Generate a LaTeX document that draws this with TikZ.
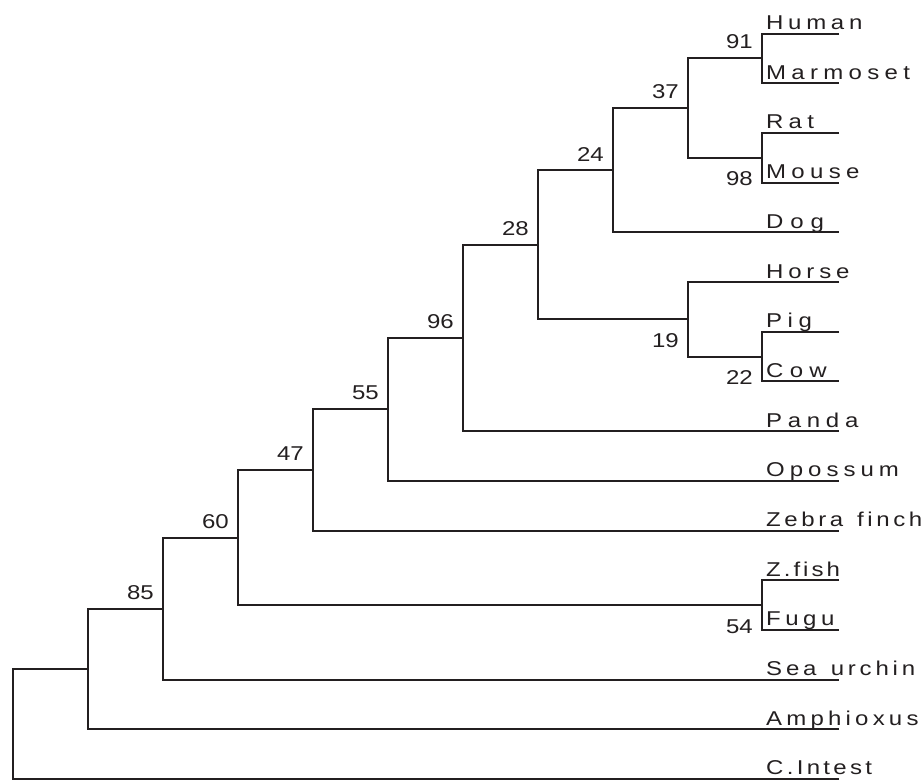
\documentclass[tikz,border=0pt]{standalone}
\usepackage{fontspec}
\setmainfont{Liberation Sans}[FakeStretch=1.2]
\usetikzlibrary{calc}
\definecolor{treeink}{HTML}{231F20}
\makeatletter
\def\spaced#1#2{\def\sp@k{#1}\sp@cedi#2\relax}
\def\sp@cedi#1{\ifx#1\relax\else#1\kern\sp@k\expandafter\sp@cedi\fi}
\makeatother
\newcommand\lblfont{\fontsize{20}{24}\selectfont}
\tikzset{
  branch/.style={draw=treeink, line width=2pt, line join=miter},
  leaf/.style={anchor=base west, inner sep=0pt, font=\lblfont, text=treeink},
  bsup/.style={anchor=south east, inner sep=0pt, font=\lblfont, text=treeink},
  bsdown/.style={anchor=north east, inner sep=0pt, font=\lblfont, text=treeink},
}
\begin{document}
\begin{tikzpicture}[x=1pt,y=-1pt]
\useasboundingbox (0,0) rectangle (922,780);
% leaf line ends
\coordinate (Human)    at (839,33.5);
\coordinate (Marmoset) at (839,83.2);
\coordinate (Rat)      at (839,132.9);
\coordinate (Mouse)    at (839,182.6);
\coordinate (Dog)      at (839,232.3);
\coordinate (Horse)    at (839,282.0);
\coordinate (Pig)      at (839,331.7);
\coordinate (Cow)      at (839,381.4);
\coordinate (Panda)    at (839,431.1);
\coordinate (Opossum)  at (839,480.8);
\coordinate (Zebra)    at (839,530.5);
\coordinate (Zfish)    at (839,580.2);
\coordinate (Fugu)     at (839,629.9);
\coordinate (Urchin)   at (839,679.6);
\coordinate (Amphi)    at (839,729.3);
\coordinate (Cint)     at (839,778.8);
% internal nodes
\coordinate (n91) at (762,58.35);
\coordinate (n98) at (762,157.75);
\coordinate (n37) at (688,108.05);
\coordinate (n24) at (613,170.2);
\coordinate (n22) at (762,356.55);
\coordinate (n19) at (688,319.3);
\coordinate (n28) at (538,244.75);
\coordinate (n96) at (463,337.9);
\coordinate (n55) at (388,409.35);
\coordinate (n47) at (313,469.9);
\coordinate (n54) at (762,605.05);
\coordinate (n60) at (238,537.5);
\coordinate (n85) at (163,608.55);
\coordinate (n1)  at (88,668.9);
\coordinate (n0)  at (13,723.95);
% branches
\draw[branch] (Human) -| (n91) |- (Marmoset);
\draw[branch] (Rat) -| (n98) |- (Mouse);
\draw[branch] (n91) -| (n37) |- (n98);
\draw[branch] (n37) -| (n24) |- (Dog);
\draw[branch] (Pig) -| (n22) |- (Cow);
\draw[branch] (Horse) -| (n19) |- (n22);
\draw[branch] (n24) -| (n28) |- (n19);
\draw[branch] (n28) -| (n96) |- (Panda);
\draw[branch] (n96) -| (n55) |- (Opossum);
\draw[branch] (n55) -| (n47) |- (Zebra);
\draw[branch] (Zfish) -| (n54) |- (Fugu);
\draw[branch] (n47) -| (n60) |- (n54);
\draw[branch] (n60) -| (n85) |- (Urchin);
\draw[branch] (n85) -| (n1) |- (Amphi);
\draw[branch] (n1) -| (n0) |- (Cint);
% leaf labels
\node[leaf] (tHuman)  at ($(Human)+(-73,-4)$)    {\spaced{4.7pt}{Human}};
\node[leaf] (tMarm)   at ($(Marmoset)+(-73,-4)$) {\spaced{5.3pt}{Marmoset}};
\node[leaf] (tRat)    at ($(Rat)+(-73,-4)$)      {\spaced{5.2pt}{Rat}};
\node[leaf] (tMouse)  at ($(Mouse)+(-73,-4)$)    {\spaced{5.3pt}{Mouse}};
\node[leaf] (tDog)    at ($(Dog)+(-73,-4)$)      {\spaced{6.9pt}{Dog}};
\node[leaf] (tHorse)  at ($(Horse)+(-73,-4)$)    {\spaced{4.8pt}{Horse}};
\node[leaf] (tPig)    at ($(Pig)+(-73,-4)$)      {\spaced{5.5pt}{Pig}};
\node[leaf] (tCow)    at ($(Cow)+(-73,-4)$)      {\spaced{6.3pt}{Cow}};
\node[leaf] (tPanda)  at ($(Panda)+(-73,-4)$)    {\spaced{5.7pt}{Panda}};
\node[leaf] (tOpos)   at ($(Opossum)+(-73,-4)$)  {\spaced{5pt}{Opossum}};
\node[leaf] (tZebra)  at ($(Zebra)+(-73,-4)$)    {\spaced{3.6pt}{Zebra~finch}};
\node[leaf] (tZfish)  at ($(Zfish)+(-73,-4)$)    {\spaced{3pt}{Z.fish}};
\node[leaf] (tFugu)   at ($(Fugu)+(-73,-4)$)     {\spaced{4.5pt}{Fugu}};
\node[leaf] (tUrchin) at ($(Urchin)+(-73,-4)$)   {\spaced{3.8pt}{Sea~urchin}};
\node[leaf] (tAmphi)  at ($(Amphi)+(-73,-4)$)    {\spaced{4.2pt}{Amphioxus}};
\node[leaf] (tCint)   at ($(Cint)+(-73,-4)$)     {\spaced{3.3pt}{C.Intest}};
% bootstrap values
\node[bsup] (b91) at ($(n91)+(-9,-9)$) {91};
\node[bsup] (b37) at ($(n37)+(-9,-9)$) {37};
\node[bsup] (b24) at ($(n24)+(-9,-9)$) {24};
\node[bsup] (b28) at ($(n28)+(-9,-9)$) {28};
\node[bsup] (b96) at ($(n96)+(-9,-9)$) {96};
\node[bsup] (b55) at ($(n55)+(-9,-9)$) {55};
\node[bsup] (b47) at ($(n47)+(-9,-9)$) {47};
\node[bsup] (b60) at ($(n60)+(-9,-9)$) {60};
\node[bsup] (b85) at ($(n85)+(-9,-9)$) {85};
\node[bsdown] (b98) at ($(n98)+(-9,14)$) {98};
\node[bsdown] (b19) at ($(n19)+(-9,14)$) {19};
\node[bsdown] (b22) at ($(n22)+(-9,14)$) {22};
\node[bsdown] (b54) at ($(n54)+(-9,14)$) {54};
\end{tikzpicture}
\end{document}
